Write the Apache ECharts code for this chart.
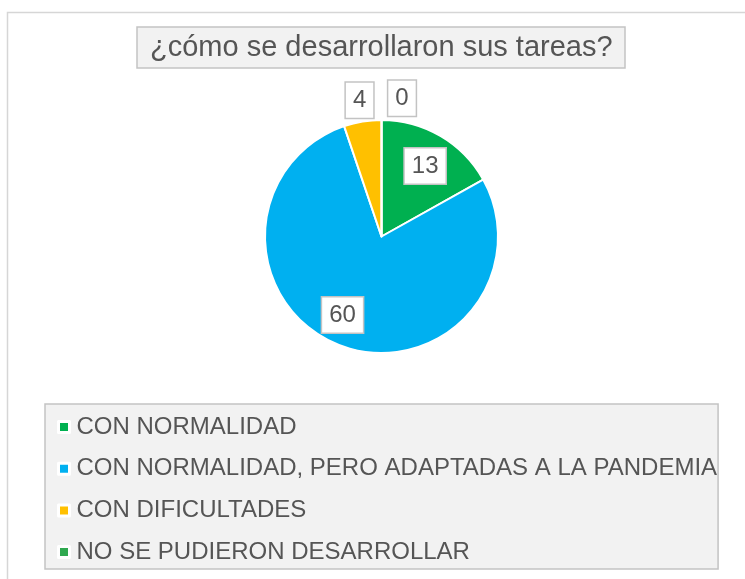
<!DOCTYPE html>
<html>
<head>
<meta charset="utf-8">
<script src="https://cdn.jsdelivr.net/npm/echarts@6/dist/echarts.min.js"></script>
<style>
html,body{margin:0;padding:0;background:#fff;}
#chart{width:745px;height:579px;}
</style>
</head>
<body>
<div id="chart"></div>
<script>
const titleText = '¿cómo se desarrollaron sus tareas?';
const categories = ['CON NORMALIDAD', 'CON NORMALIDAD, PERO ADAPTADAS A LA PANDEMIA', 'CON DIFICULTADES', 'NO SE PUDIERON DESARROLLAR'];
const values = [13, 60, 4, 0];
const colors = ['#00B050', '#00B0F0', '#FFC000', '#2FA84F'];
const insideLabelIdx = [0, 1];
const outsideLabelIdx = [2, 3];

const FONT = '"Liberation Sans", Arial, sans-serif';
const center = [381.5, 236.5];
const R = 116.5;

const labelBox = {
  color: '#555555', fontSize: 24, fontFamily: FONT, lineHeight: 24,
  backgroundColor: '#ffffff', borderColor: '#c3c3c3', borderWidth: 1.5,
  padding: [6, 7, 5, 7]
};

function labelData(showIdx) {
  return categories.map((c, i) => ({
    name: c, value: values[i],
    itemStyle: { color: 'rgba(0,0,0,0)' },
    label: { show: showIdx.indexOf(i) >= 0 }
  }));
}

const chart = echarts.init(document.getElementById('chart'), null, { renderer: 'canvas' });
chart.setOption({
  animation: false,
  backgroundColor: '#ffffff',
  graphic: [{
    type: 'rect', z: -10, silent: true,
    shape: { x: 7.5, y: 12.5, width: 800, height: 600 },
    style: { fill: '#ffffff', stroke: '#d6d6d6', lineWidth: 1.5 }
  }],
  title: {
    text: titleText,
    left: 137, top: 27,
    padding: [6, 13, 6, 13],
    backgroundColor: '#f2f2f2', borderColor: '#c3c3c3', borderWidth: 1.5,
    textStyle: { color: '#555555', fontSize: 29, fontWeight: 'normal', fontFamily: FONT, lineHeight: 29 }
  },
  legend: {
    orient: 'vertical',
    left: 45, top: 404,
    padding: [11, 1, 5, 12],
    backgroundColor: '#f2f2f2', borderColor: '#c3c3c3', borderWidth: 1.5,
    itemWidth: 11, itemHeight: 11, itemGap: 17.7,
    icon: 'rect',
    itemStyle: { borderColor: '#ffffff', borderWidth: 3 },
    data: categories,
    textStyle: { color: '#555555', fontSize: 24, fontFamily: FONT, lineHeight: 24, padding: [0, 0, 0, 2] },
    selectedMode: false
  },
  series: [
    {
      type: 'pie', center: center, radius: [0, R],
      startAngle: 90, clockwise: true,
      data: categories.map((c, i) => ({ name: c, value: values[i], itemStyle: { color: colors[i] } })),
      itemStyle: { borderColor: '#ffffff', borderWidth: 2 },
      label: { show: false }, labelLine: { show: false },
      silent: true
    },
    {
      type: 'pie', center: center, radius: [50, R],
      startAngle: 90, clockwise: true, silent: true,
      data: labelData(insideLabelIdx),
      label: Object.assign({ position: 'inside', formatter: '{c}' }, labelBox),
      labelLine: { show: false },
      labelLayout: function (p) { return p.dataIndex === 1 ? { dx: -8, dy: -2 } : { dy: 4 }; }
    },
    {
      type: 'pie', center: center, radius: [R, 160],
      startAngle: 90, clockwise: true, silent: true,
      data: labelData(outsideLabelIdx),
      label: Object.assign({ position: 'inside', formatter: '{c}' }, labelBox),
      labelLine: { show: false },
      labelLayout: function (p) { return p.dataIndex === 3 ? { dx: 20.5, dy: 3 } : { dx: 1, dy: 3 }; }
    }
  ]
});
</script>
</body>
</html>
